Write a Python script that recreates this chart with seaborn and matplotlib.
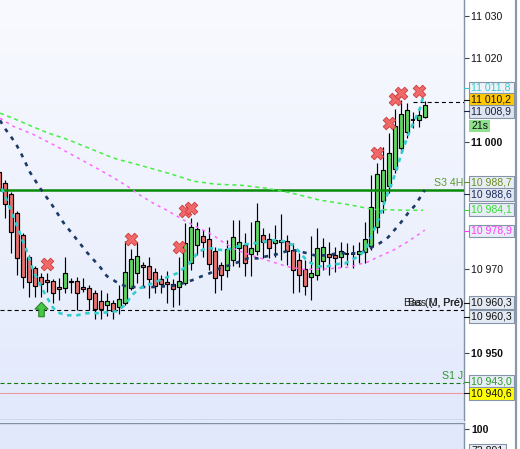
"""
Intraday candlestick chart: bars, four moving averages, pivot levels, signal marks
and the price tags of the right-hand scale.

Output: out.png (520x449)

Run: python plot.py
"""
from __future__ import annotations

import matplotlib

matplotlib.use("Agg")
import matplotlib.pyplot as plt
import matplotlib.transforms as mtransforms
import numpy as np
import seaborn as sns
from matplotlib.colors import LinearSegmentedColormap
from matplotlib.lines import Line2D
from matplotlib.patches import Rectangle

W, H = 520, 449

# OHLC per bar (bar 0 is cut by the left edge)
OPEN = [10992.9, 10990.3, 10987.7, 10983.2, 10978.0, 10972.8, 10970.2, 10968.0, 10967.3, 10967.1,
        10965.7, 10965.4, 10967.1, 10967.1, 10965.7, 10965.4, 10964.2, 10962.3, 10961.4, 10961.9,
        10960.9, 10961.9, 10965.4, 10969.0, 10970.9, 10970.6, 10969.2, 10967.6, 10966.8, 10966.4,
        10965.7, 10966.6, 10971.3, 10975.6, 10977.7, 10977.0, 10974.2, 10970.9, 10969.7, 10972.1,
        10974.9, 10975.6, 10973.5, 10974.2, 10978.0, 10977.0, 10976.1, 10976.3, 10976.6, 10974.4,
        10972.1, 10969.9, 10968.0, 10968.5, 10971.8, 10973.5, 10973.2, 10972.8, 10973.6, 10973.5,
        10973.5, 10974.0, 10975.4, 10979.9, 10986.0, 10989.6, 10993.6, 10998.6, 11002.4, 11005.2,
        11005.2, 11005.9]
HIGH = [10994.6, 10991.0, 10988.2, 10983.7, 10978.5, 10973.2, 10970.6, 10969.0, 10969.0, 10967.6,
        10967.8, 10972.8, 10967.8, 10968.0, 10967.8, 10966.1, 10964.9, 10964.9, 10964.2, 10962.6,
        10966.1, 10976.6, 10974.7, 10976.3, 10971.6, 10972.8, 10970.2, 10968.5, 10969.4, 10967.6,
        10972.8, 10980.8, 10982.0, 10981.1, 10979.2, 10979.9, 10975.1, 10971.6, 10976.8, 10981.5,
        10981.5, 10978.5, 10981.1, 10985.6, 10979.6, 10978.5, 10980.3, 10983.0, 10978.0, 10976.1,
        10973.7, 10972.1, 10977.7, 10979.6, 10977.3, 10976.3, 10975.1, 10976.3, 10976.1, 10975.6,
        10976.3, 10981.1, 10992.2, 10995.0, 10998.8, 11002.2, 11007.8, 11010.0, 11009.3, 11007.1,
        11008.1, 11009.7]
LOW = [10987.5, 10982.0, 10973.7, 10968.5, 10965.4, 10963.3, 10963.3, 10963.3, 10964.5, 10961.9,
       10962.6, 10964.2, 10964.2, 10960.2, 10964.5, 10960.2, 10958.1, 10958.1, 10958.8, 10958.1,
       10959.3, 10961.4, 10964.9, 10966.6, 10965.7, 10963.0, 10964.2, 10964.2, 10961.9, 10960.9,
       10961.4, 10966.1, 10969.7, 10973.2, 10972.8, 10969.7, 10964.2, 10964.9, 10968.0, 10970.6,
       10970.4, 10968.3, 10968.3, 10973.2, 10972.5, 10972.5, 10972.8, 10972.1, 10970.9, 10964.2,
       10964.5, 10963.8, 10962.6, 10967.3, 10969.7, 10968.5, 10969.2, 10970.4, 10970.9, 10970.2,
       10971.3, 10971.3, 10974.4, 10978.5, 10983.2, 10987.9, 10992.7, 10997.4, 11001.0, 11003.3,
       11003.6, 11005.7]
CLOSE = [10988.9, 10985.3, 10978.7, 10972.5, 10968.0, 10966.8, 10965.9, 10966.4, 10966.8, 10964.2,
         10965.2, 10969.0, 10966.8, 10964.2, 10965.2, 10962.8, 10960.4, 10960.4, 10962.3, 10960.0,
         10962.8, 10969.2, 10972.3, 10973.0, 10970.4, 10967.6, 10965.9, 10966.4, 10966.4, 10965.2,
         10967.1, 10976.1, 10979.9, 10979.4, 10976.3, 10971.1, 10967.8, 10968.5, 10974.7, 10977.5,
         10976.3, 10971.3, 10974.9, 10981.3, 10976.3, 10974.9, 10976.8, 10976.8, 10974.2, 10969.7,
         10968.5, 10965.9, 10969.0, 10974.9, 10975.1, 10972.8, 10972.5, 10974.2, 10973.6, 10973.5,
         10974.2, 10977.0, 10984.6, 10992.4, 10993.4, 10997.4, 11003.8, 11006.7, 11007.6, 11005.2,
         11006.4, 11008.8]

# moving averages (bar position, value)
FAST_X = [0.5, 1.8, 3.3, 4.5, 5.7, 7.0, 8.0, 9.0, 9.8, 11.3, 13.0, 14.7, 16.3, 18.0, 19.7, 21.0,
          22.2, 23.5, 25.2, 26.8, 28.5, 29.8, 31.5, 33.2, 34.7, 36.3, 37.7, 39.3, 41.0, 42.7, 44.3,
          46.0, 47.7, 49.0, 50.2, 51.3, 53.0, 54.7, 56.0, 57.7, 59.7, 60.7, 61.5, 62.3, 63.2, 64.0,
          64.8, 65.7, 66.5, 67.3, 68.2, 69.3, 70.2, 70.7]
FAST_Y = [10989.1, 10984.6, 10979.2, 10974.9, 10969.7, 10965.9, 10963.3, 10960.9, 10959.7, 10959.0,
          10959.0, 10959.5, 10959.5, 10959.7, 10960.0, 10961.4, 10963.8, 10965.4, 10966.4, 10967.3,
          10968.3, 10969.0, 10970.9, 10973.9, 10975.1, 10974.6, 10974.4, 10975.1, 10975.8, 10976.1,
          10976.5, 10976.8, 10976.5, 10975.6, 10973.9, 10972.0, 10970.6, 10970.6, 10971.1, 10971.3,
          10972.8, 10973.9, 10975.6, 10978.4, 10981.5, 10984.6, 10987.9, 10991.0, 10994.6, 10998.1,
          11001.7, 11005.2, 11008.1, 11010.7]
SLOW_X = [0.2, 1.0, 2.0, 2.9, 3.7, 5.2, 6.9, 8.9, 10.7, 12.7, 14.7, 16.9, 18.0, 19.7, 21.4, 23.5,
          25.7, 28.0, 29.7, 30.7, 32.2, 33.9, 35.2, 36.9, 38.5, 39.9, 41.5, 43.2, 44.7, 46.4, 48.0,
          49.4, 51.4, 52.7, 54.7, 56.4, 58.0, 60.2, 61.9, 63.5, 64.9, 66.9, 68.2, 69.4, 71.0]
SLOW_Y = [11005.2, 11003.3, 11001.4, 10999.5, 10997.4, 10992.9, 10989.1, 10985.1, 10981.1, 10977.5,
          10973.9, 10970.4, 10968.3, 10966.8, 10965.7, 10965.7, 10965.7, 10965.9, 10966.1, 10966.6,
          10967.3, 10968.3, 10969.0, 10970.2, 10970.9, 10971.6, 10972.5, 10972.5, 10973.0, 10973.5,
          10974.2, 10974.4, 10973.7, 10973.2, 10973.2, 10973.7, 10973.7, 10973.7, 10974.9, 10976.1,
          10977.5, 10980.8, 10983.2, 10985.1, 10988.7]
LONG_X = [0.2, 2.7, 5.5, 8.2, 11.4, 14.7, 18.0, 19.7, 22.4, 25.2, 28.9, 32.4, 36.0, 40.5, 44.7,
          49.0, 53.5, 58.0, 62.4, 68.0, 70.7]
LONG_Y = [11006.9, 11005.5, 11003.8, 11002.2, 11000.7, 10998.8, 10996.9, 10996.0, 10995.0, 10993.9,
          10992.4, 10990.8, 10990.1, 10989.8, 10989.1, 10987.9, 10986.3, 10985.3, 10984.1, 10983.9,
          10983.9]
MID_X = [0.2, 2.4, 5.7, 9.0, 12.4, 16.9, 19.0, 21.4, 23.5, 25.7, 28.0, 31.4, 33.5, 35.7, 37.4,
         39.7, 43.0, 46.4, 48.5, 50.7, 53.5, 58.2, 61.4, 63.5, 65.7, 68.0, 70.2, 71.0]
MID_Y = [11005.7, 11003.8, 11001.9, 10999.5, 10996.9, 10993.4, 10991.7, 10989.6, 10987.5, 10985.6,
         10983.9, 10981.1, 10979.6, 10978.0, 10976.3, 10974.4, 10972.8, 10971.3, 10970.4, 10969.9,
         10969.9, 10970.4, 10971.6, 10973.0, 10974.4, 10976.3, 10978.4, 10979.2]

# signals
SELL_X = [8, 22, 30, 31, 32, 63, 65, 66, 67, 70]
SELL_Y = [10971.2, 10977.0, 10975.1, 10983.8, 10984.4, 10997.4, 11004.5, 11010.2, 11011.6, 11012.2]
BUY_X = [7]
BUY_Y = [10960.6]

# horizontal levels
S3_4H = 10988.7
BAS_PRE = 10960.3
S1_J = 10943.0
PINK_LEVEL = 10940.6
LAST_LEVEL = 11009.5
LAST_FROM = 69

YTICKS = [10950, 10970, 11000, 11020, 11030]
BOLD_TICKS = [10950, 11000]

# price tags on the right scale (text, level, face, text colour)
TAG_TEXT = ["11 011,8", "11 010,2", "11 008,9", "21s", "10 988,7", "10 988,6", "10 984,1",
            "10 978,9", "10 960,3", "10 960,3", "10 943,0", "10 940,6"]
TAG_Y = [11012.9, 11010.1, 11007.3, 11003.9, 10990.5, 10987.7, 10984.0, 10979.0, 10962.0,
         10958.7, 10943.3, 10940.5]
TAG_FACE = ["#eef2f9", "#ffc800", "#dde4f0", "#8fe08f", "#e8edf6", "#e2e8f3", "#e8edf6",
            "#e8edf6", "#e4eaf4", "#e4eaf4", "#e8edf6", "#ffff00"]
TAG_COLOR = ["#33cccc", "#111111", "#1a2040", "#111111", "#6b8e23", "#1a2a5a", "#33dd33",
             "#ff3dff", "#111111", "#111111", "#2a9a2a", "#111111"]

XLIM = (0.2, 77.53)
YLIM = (10934.19, 11033.72)
FONT = 7.6


def fmt_price(v: float) -> str:
    return f"{int(v):,}".replace(",", " ")


def run() -> None:
    sns.set_style("white")
    plt.rcParams["font.family"] = ["Liberation Sans", "DejaVu Sans"]
    plt.rcParams["lines.scale_dashes"] = False

    fig = plt.figure(figsize=(W / 100, H / 100), dpi=100, facecolor="white")
    ax = fig.add_axes([0, 29 / H, 464 / W, 420 / H])
    ax2 = fig.add_axes([0, 0, 464 / W, 26 / H])

    # background gradient of the price panel
    bg = LinearSegmentedColormap.from_list("bg", ["#f9faff", "#eef2fd", "#e2e9fc"])
    ax.imshow(np.linspace(0, 1, 256).reshape(-1, 1), cmap=bg, aspect="auto",
              extent=(*XLIM, *YLIM), zorder=0, interpolation="bilinear")

    # candles
    o, h, l, c = (np.array(a) for a in (OPEN, HIGH, LOW, CLOSE))
    x = np.arange(len(o))
    up, down = c > o, c < o
    flat = ~(up | down)
    ax.vlines(x, l, h, color="black", lw=0.85, zorder=3)
    ax.bar(x[up], (c - o)[up], bottom=o[up], width=0.62, color="#5fd85f",
           edgecolor="black", linewidth=0.85, zorder=4)
    ax.bar(x[down], (o - c)[down], bottom=c[down], width=0.62, color="#ea726e",
           edgecolor="black", linewidth=0.85, zorder=4)
    ax.hlines(o[flat], x[flat] - 0.38, x[flat] + 0.38, color="black", lw=1.3, zorder=4)

    # levels
    ax.axhline(S3_4H, color="#078a07", lw=1.8, zorder=5)
    ax.axhline(BAS_PRE, color="black", lw=0.8, linestyle=(0, (2.9, 2.2)), zorder=5)
    ax.axhline(S1_J, color="#0a7a0a", lw=0.8, linestyle=(0, (2.9, 2.0)), zorder=5)
    ax.axhline(PINK_LEVEL, color="#ec9aa0", lw=0.8, zorder=5)
    ax.plot([LAST_FROM, XLIM[1]], [LAST_LEVEL, LAST_LEVEL], color="black", lw=0.8,
            linestyle=(0, (2.9, 2.2)), zorder=5)

    # moving averages
    sns.lineplot(x=LONG_X, y=LONG_Y, ax=ax, color="#44ee44", linewidth=1.1,
                 linestyle=(0, (2.9, 2.6)), zorder=6)
    sns.lineplot(x=MID_X, y=MID_Y, ax=ax, color="#ff66ff", linewidth=1.1,
                 linestyle=(0, (2.2, 3.0)), zorder=6)
    sns.lineplot(x=SLOW_X, y=SLOW_Y, ax=ax, color="#1b3a66", linewidth=1.9,
                 linestyle=(0, (2.9, 4.2)), zorder=6)
    sns.lineplot(x=FAST_X, y=FAST_Y, ax=ax, color="#2fcfd0", linewidth=1.9,
                 linestyle=(0, (3.2, 3.4)), zorder=6)

    # signals
    sns.scatterplot(x=SELL_X, y=SELL_Y, ax=ax, marker="X", s=82, color="#f06868",
                    edgecolor="#c83c3c", linewidth=0.6, zorder=8)
    arrow = [(0, 1), (0.9, 0.05), (0.38, 0.05), (0.38, -1), (-0.38, -1), (-0.38, 0.05),
             (-0.9, 0.05), (0, 1)]
    sns.scatterplot(x=BUY_X, y=BUY_Y, ax=ax, marker=arrow, s=110, color="#46c846",
                    edgecolor="#1f7a1f", linewidth=0.7, zorder=8)

    # level names
    tr_in = mtransforms.blended_transform_factory(ax.transAxes, ax.transData)
    ax.text(463 / 464, S3_4H + 0.45, "S3 4H", transform=tr_in, ha="right", va="bottom",
            fontsize=FONT, color="#5c9a2c", zorder=9)
    ax.text(463 / 464, S1_J + 0.45, "S1 J", transform=tr_in, ha="right", va="bottom",
            fontsize=FONT, color="#2f962f", zorder=9)
    for name in ("Bas (M, Pré)", "Bas (J, Pré)"):
        ax.text(463 / 464, BAS_PRE + 0.45, name, transform=tr_in, ha="right", va="bottom",
                fontsize=FONT, color="#222222", zorder=9)

    # right price scale
    ax.yaxis.tick_right()
    ax.set_yticks(YTICKS)
    ax.set_yticklabels([fmt_price(v) for v in YTICKS])
    for lab, v in zip(ax.get_yticklabels(), YTICKS):
        if v in BOLD_TICKS:
            lab.set_fontweight("bold")
    ax.tick_params(axis="y", right=True, left=False, labelright=True, labelleft=False,
                   direction="out", length=3.6, width=0.8, color="#444444", pad=1.7,
                   labelsize=FONT, labelcolor="#111111")
    ax.set_xticks([])
    ax.set_xlabel("")
    ax.set_ylabel("")
    for side in ("top", "left"):
        ax.spines[side].set_visible(False)
    for side in ("right", "bottom"):
        ax.spines[side].set_color("#8292a4")
        ax.spines[side].set_linewidth(1.0)

    # price tags
    tr_out = mtransforms.blended_transform_factory(fig.transFigure, ax.transData)
    for k, (txt, yv, fc, tc) in enumerate(zip(TAG_TEXT, TAG_Y, TAG_FACE, TAG_COLOR)):
        width = 21 if txt.endswith("s") else 45
        edge = "none" if txt.endswith("s") else "#8594a8"
        ax.add_patch(Rectangle((469 / W, yv - 1.5), width / W, 3.0, transform=tr_out,
                               facecolor=fc, edgecolor=edge, linewidth=0.8, clip_on=False,
                               zorder=20 + 2 * k))
        ax.text(471 / W, yv, txt, transform=tr_out, ha="left", va="center", fontsize=FONT,
                color=tc, clip_on=False, zorder=21 + 2 * k)
        if not txt.endswith("s"):
            ax.plot([464 / W, 469 / W], [yv, yv], transform=tr_out, color=tc, lw=0.8,
                    clip_on=False, zorder=20 + 2 * k)

    ax.set_xlim(*XLIM)
    ax.set_ylim(*YLIM)

    # lower indicator panel
    ax2.set_facecolor("#e1e8fc")
    ax2.set_xlim(*XLIM)
    ax2.set_ylim(75.3, 107.4)
    ax2.set_xticks([])
    ax2.yaxis.tick_right()
    ax2.set_yticks([100])
    ax2.set_yticklabels(["100"], fontweight="bold")
    ax2.tick_params(axis="y", right=True, left=False, labelright=True, labelleft=False,
                    direction="out", length=3.6, width=0.8, color="#444444", pad=1.7,
                    labelsize=FONT, labelcolor="#111111")
    for side in ("left", "bottom"):
        ax2.spines[side].set_visible(False)
    for side in ("top", "right"):
        ax2.spines[side].set_color("#8292a4")
        ax2.spines[side].set_linewidth(1.0)
    tr_low = mtransforms.blended_transform_factory(fig.transFigure, ax2.transData)
    ax2.add_patch(Rectangle((469 / W, 72.891 - 8.5), 37 / W, 17, transform=tr_low,
                            facecolor="#e8edf6", edgecolor="#8594a8", linewidth=0.8,
                            clip_on=False, zorder=10))
    ax2.text(471 / W, 72.891, "72,891", transform=tr_low, ha="left", va="center",
             fontsize=FONT, color="#111111", clip_on=False, zorder=11)

    # strip between the panels and the frame bar on the right
    fig.add_artist(Rectangle((0, 26 / H), 464 / W, 3 / H, transform=fig.transFigure,
                             facecolor="#e2e9fc", edgecolor="none"))
    fig.add_artist(Line2D([516 / W, 516 / W], [0, 1], transform=fig.transFigure,
                          color="#8c99a6", lw=1.6))

    fig.savefig("out.png", dpi=100)
    plt.close(fig)


def main():
    run()


if __name__ == "__main__":
    main()
